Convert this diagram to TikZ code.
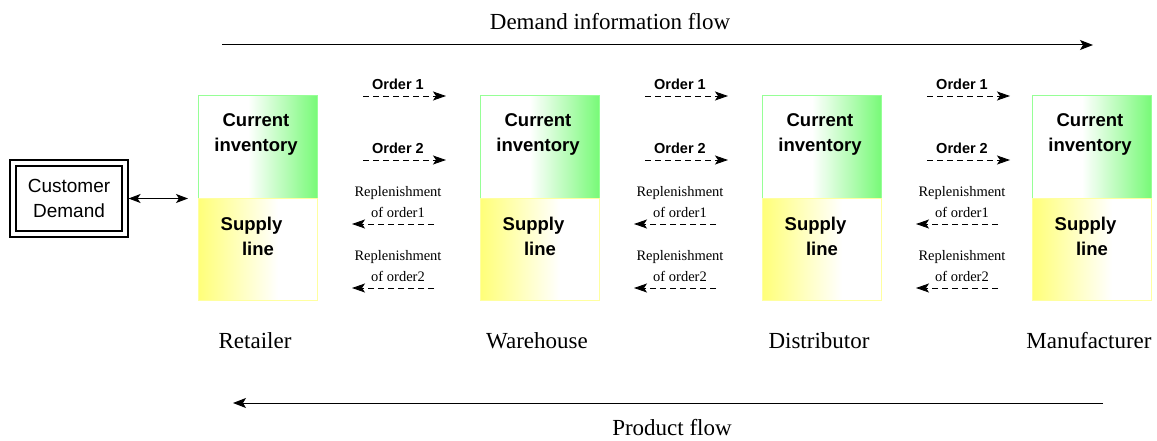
\documentclass[tikz,border=0pt]{standalone}
\usepackage{fontspec}
\setmainfont{Liberation Serif}
\setsansfont{Liberation Sans}
\usetikzlibrary{arrows.meta}
\definecolor{invgreen}{RGB}{120,250,120}
\definecolor{invyellow}{RGB}{255,255,120}
\definecolor{greenborder}{RGB}{150,255,150}
\definecolor{yellowborder}{RGB}{255,255,160}
\tikzset{
  boldtxt/.style={font=\sffamily\bfseries\fontsize{18.5}{25}\selectfont, align=center, inner sep=0},
  ordertxt/.style={font=\sffamily\bfseries\fontsize{14.5}{17}\selectfont, inner sep=0},
  reptxt/.style={font=\fontsize{14.5}{21}\selectfont, align=center, inner sep=0},
  labtxt/.style={font=\fontsize{23}{26}\selectfont, inner sep=0},
  smallarrow/.style={dashed, dash pattern=on 6pt off 4pt, line width=0.9pt, -{Stealth[length=13pt,width=9pt,inset=3pt]}},
  flowarrow/.style={line width=1pt, -{Stealth[length=13pt,width=10pt,inset=3pt]}},
  halfbox/.style={draw, line width=1pt, minimum width=119pt, minimum height=102pt, inner sep=0},
}
\begin{document}
\begin{tikzpicture}[x=1pt,y=-1pt]
\useasboundingbox (0,0) rectangle (1157,441);
% customer demand
\node[draw, line width=1.1pt, minimum width=118pt, minimum height=77pt, inner sep=0] (custout) at (69,198.5) {};
\node[draw, line width=1.1pt, minimum width=106pt, minimum height=65pt, inner sep=0,
      font=\sffamily\fontsize{19}{25}\selectfont, align=center] (cust) at (69,198.5) {Customer\\Demand};
% echelons
\foreach \x/\n/\l in {198/ret/Retailer, 480/war/Warehouse, 762/dis/Distributor, 1032/man/Manufacturer}{
  \shade[left color=white, right color=invgreen] (\x+50,96) rectangle (\x+119,198);
  \shade[left color=invyellow, right color=white] (\x,198) rectangle (\x+80,300);
  \node[halfbox, draw=greenborder] (\n-top) at (\x+59.5,147) {};
  \node[halfbox, draw=yellowborder] (\n-bot) at (\x+59.5,249) {};
  \node[boldtxt] (\n-cur) at (\x+58,134.5) {Current\\inventory};
  \node[boldtxt] (\n-sup) at (\x+53.5,236.5) {Supply\\\hspace*{13pt}line};
  \node[labtxt] (\n-lab) at (\x+57,341) {\l};
}
\draw[{Stealth[length=12pt,width=9pt,inset=3pt]}-{Stealth[length=12pt,width=9pt,inset=3pt]}, line width=1pt] (custout.east) -- (188,198.5) coordinate (retin);
% order / replenishment arrows
\foreach \dx/\k in {0/a, 282/b, 564/c}{
  \node[ordertxt] (o1\k) at (398+\dx,84) {Order 1};
  \node[ordertxt] (o2\k) at (398+\dx,148) {Order 2};
  \coordinate (o1s\k) at (363+\dx,96);
  \coordinate (o1e\k) at (446+\dx,96);
  \coordinate (o2s\k) at (363+\dx,160);
  \coordinate (o2e\k) at (446+\dx,160);
  \draw[smallarrow] (o1s\k) -- (o1e\k);
  \draw[smallarrow] (o2s\k) -- (o2e\k);
  \node[reptxt] (r1\k) at (398+\dx,202.5) {Replenishment\\of order1};
  \node[reptxt] (r2\k) at (398+\dx,266.5) {Replenishment\\of order2};
  \coordinate (r1s\k) at (434+\dx,224);
  \coordinate (r1e\k) at (352+\dx,224);
  \coordinate (r2s\k) at (434+\dx,288);
  \coordinate (r2e\k) at (352+\dx,288);
  \draw[smallarrow] (r1s\k) -- (r1e\k);
  \draw[smallarrow] (r2s\k) -- (r2e\k);
}
% flows
\node[labtxt] (dif) at (610,22) {Demand information flow};
\coordinate (difs) at (222,45);
\coordinate (dife) at (1093,45);
\draw[flowarrow] (difs) -- (dife);
\node[labtxt] (pf) at (672,428) {Product flow};
\coordinate (pfs) at (1103,403);
\coordinate (pfe) at (233,403);
\draw[flowarrow] (pfs) -- (pfe);
\end{tikzpicture}
\end{document}
